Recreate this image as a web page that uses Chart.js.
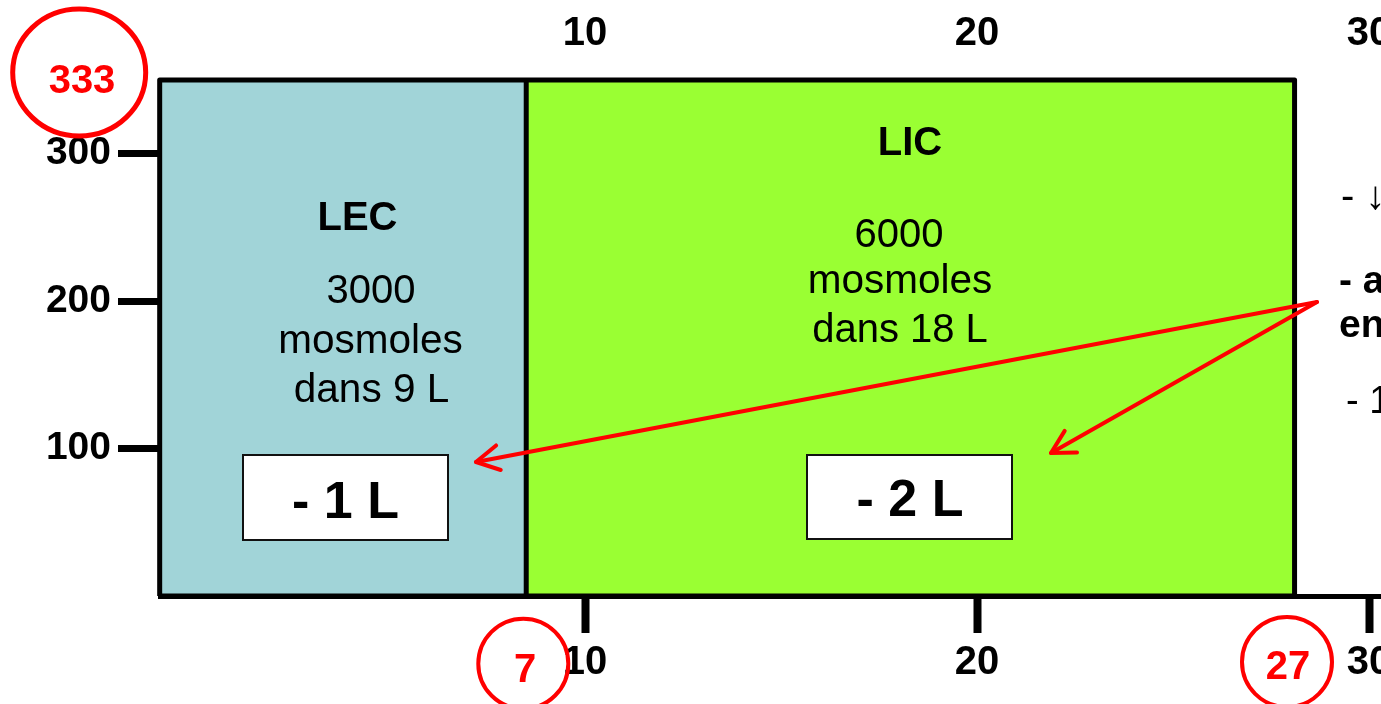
<!DOCTYPE html>
<html>
<head>
<meta charset="utf-8">
<script src="https://cdn.jsdelivr.net/npm/chart.js@4.4.1/dist/chart.umd.min.js"></script>
<style>
html,body{margin:0;padding:0;overflow:hidden;background:#fff;width:1381px;height:704px}
#wrap{position:absolute;left:0;top:0;width:1460px;height:704px}
canvas{display:block}
</style>
</head>
<body>
<div id="wrap"><canvas id="c" width="1460" height="704" style="width:1460px;height:704px"></canvas></div>
<script>
// ---------------- data ----------------
const xTickValues = [10, 20, 30];
const xTickLabels = ['10', '20', '30'];
const yTickValues = [100, 200, 300];
const yTickLabels = ['100', '200', '300'];
const compartments = ['LEC', 'LIC'];
const volumeEdges = [-0.85, 8.5, 28.1];   // left edge, LEC|LIC boundary, right edge (read on the volume axis)
const osmolalityTop = 350;                // top of both compartments (read on the osmolality axis)
const osmolalityBottom = 0;
const mosmoleCounts = ['3000', '6000'];
const compartmentVolumes = ['9 L', '18 L'];
const waterLosses = ['- 1 L', '- 2 L'];
const circledValues = ['333', '7', '27'];
const sideNotes = ['- \u2193', '- av', 'en', '- 1'];

// ---------------- axis ranges (layout) ----------------
const X_MIN = -0.842, X_MAX = 32.32;
const Y_MIN = 0, Y_MAX = 350;

const FONT = "'Liberation Sans', Arial, Helvetica, sans-serif";
const LEC_COLOR = '#A1D4D8';
const LIC_COLOR = '#9AFF33';
const RED = '#FF0000';

const fillLEC = [{x: volumeEdges[0], y: osmolalityTop}, {x: volumeEdges[1], y: osmolalityTop}];
const fillLIC = [{x: volumeEdges[1], y: osmolalityTop}, {x: volumeEdges[2], y: osmolalityTop}];
const outline = [
  {x: volumeEdges[0], y: osmolalityBottom}, {x: volumeEdges[0], y: osmolalityTop},
  {x: volumeEdges[2], y: osmolalityTop}, {x: volumeEdges[2], y: osmolalityBottom},
  {x: volumeEdges[0], y: osmolalityBottom}
];
const divider = [{x: volumeEdges[1], y: osmolalityBottom}, {x: volumeEdges[1], y: osmolalityTop}];

const annotations = {
  id: 'annotations',
  afterDatasetsDraw(chart) {
    const ctx = chart.ctx;
    ctx.save();
    ctx.textAlign = 'center';
    ctx.textBaseline = 'alphabetic';
    ctx.fillStyle = '#000';
    function txt(s, x, y, size, bold, align, color) {
      ctx.font = (bold ? 'bold ' : '') + size + 'px ' + FONT;
      ctx.textAlign = align || 'center';
      ctx.fillStyle = color || '#000';
      ctx.fillText(s, x, y);
    }
    // compartment texts
    txt(compartments[0], 357.5, 230, 40, true);
    txt(mosmoleCounts[0], 371, 303, 40, false);
    txt('mosmoles', 370.5, 353, 40.5, false);
    txt('dans ' + compartmentVolumes[0], 371.5, 402, 40.5, false);
    txt(compartments[1], 910, 155, 40, true);
    txt(mosmoleCounts[1], 899, 247, 40, false);
    txt('mosmoles', 900, 293, 40.5, false);
    txt('dans ' + compartmentVolumes[1], 900, 342, 40, false);

    // white boxes
    ctx.lineWidth = 2;
    ctx.strokeStyle = '#111';
    ctx.fillStyle = '#fff';
    ctx.fillRect(243, 455, 205, 85); ctx.strokeRect(243, 455, 205, 85);
    ctx.fillRect(807, 455, 205, 84); ctx.strokeRect(807, 455, 205, 84);
    txt(waterLosses[0], 345.5, 518, 52, true);
    txt(waterLosses[1], 910, 516, 52, true);

    // red circles
    ctx.strokeStyle = RED;
    ctx.lineWidth = 5;
    ctx.beginPath(); ctx.ellipse(79.2, 72.5, 66.5, 63.5, 0, 0, Math.PI * 2); ctx.stroke();
    txt(circledValues[0], 82, 93, 40, true, 'center', RED);
    ctx.lineWidth = 4;
    ctx.beginPath(); ctx.arc(523.3, 663.7, 45, 0, Math.PI * 2); ctx.stroke();
    txt(circledValues[1], 525, 681.7, 40, true, 'center', RED);
    ctx.beginPath(); ctx.arc(1287, 662, 45, 0, Math.PI * 2); ctx.stroke();
    txt(circledValues[2], 1288, 679.3, 40, true, 'center', RED);

    // side notes (cut by the page edge)
    txt(sideNotes[0], 1341, 209, 40, false, 'left');
    txt(sideNotes[1], 1339, 293, 39, true, 'left');
    txt(sideNotes[2], 1339, 337, 39, true, 'left');
    txt(sideNotes[3], 1346, 413, 38, false, 'left');

    // red arrows
    ctx.strokeStyle = RED;
    ctx.lineWidth = 4;
    ctx.lineCap = 'round';
    ctx.lineJoin = 'round';
    function arrow(x1, y1, x2, y2) {
      ctx.beginPath(); ctx.moveTo(x1, y1); ctx.lineTo(x2, y2); ctx.stroke();
      const a = Math.atan2(y2 - y1, x2 - x1), L = 26, t = 0.5;
      ctx.beginPath();
      ctx.moveTo(x2 - L * Math.cos(a - t), y2 - L * Math.sin(a - t));
      ctx.lineTo(x2, y2);
      ctx.lineTo(x2 - L * Math.cos(a + t), y2 - L * Math.sin(a + t));
      ctx.stroke();
    }
    arrow(1317, 302, 476, 462);
    arrow(1317, 302, 1051, 453);
    ctx.restore();
  }
};

const tickFontX = {family: FONT, size: 40, weight: 'bold'};

new Chart(document.getElementById('c'), {
  type: 'line',
  data: {
    datasets: [
      {label: 'outline', data: outline, borderColor: '#000', borderWidth: 5, fill: false,
       pointRadius: 0, borderJoinStyle: 'round', clip: false, order: 0},
      {label: 'divider', data: divider, borderColor: '#000', borderWidth: 5, fill: false,
       pointRadius: 0, clip: false, order: 0},
      {label: compartments[0], data: fillLEC, borderWidth: 0, borderColor: 'rgba(0,0,0,0)',
       backgroundColor: LEC_COLOR, fill: 'origin', pointRadius: 0, clip: false, order: 1},
      {label: compartments[1], data: fillLIC, borderWidth: 0, borderColor: 'rgba(0,0,0,0)',
       backgroundColor: LIC_COLOR, fill: 'origin', pointRadius: 0, clip: false, order: 1}
    ]
  },
  options: {
    responsive: false,
    animation: false,
    devicePixelRatio: 1,
    layout: {padding: 0},
    plugins: {legend: {display: false}, tooltip: {enabled: false}},
    scales: {
      x: {
        type: 'linear', position: 'bottom', min: X_MIN, max: X_MAX,
        afterBuildTicks: s => { s.ticks = xTickValues.map(v => ({value: v})); },
        afterFit: s => { s.height = 108; s.paddingLeft = 0; s.paddingRight = 0; },
        grid: {display: true, drawOnChartArea: false, drawTicks: true, tickLength: 37,
               tickWidth: 8, tickColor: '#000', color: '#000'},
        border: {display: true, width: 5, color: '#000'},
        ticks: {color: '#000', font: tickFontX, padding: 6, maxRotation: 0, autoSkip: false,
                callback: (v, i) => xTickLabels[i]}
      },
      x2: {
        type: 'linear', position: 'top', min: X_MIN, max: X_MAX,
        afterBuildTicks: s => { s.ticks = xTickValues.map(v => ({value: v})); },
        afterFit: s => { s.height = 80; s.paddingLeft = 0; s.paddingRight = 0; },
        grid: {display: false, drawTicks: false},
        border: {display: false},
        ticks: {color: '#000', font: tickFontX, padding: 22, maxRotation: 0, autoSkip: false,
                callback: (v, i) => xTickLabels[i]}
      },
      y: {
        type: 'linear', position: 'left', min: Y_MIN, max: Y_MAX,
        afterBuildTicks: s => { s.ticks = yTickValues.map(v => ({value: v})); },
        afterFit: s => { s.width = 160; s.paddingTop = 0; s.paddingBottom = 0; },
        grid: {display: true, drawOnChartArea: false, drawTicks: true, tickLength: 42,
               tickWidth: 7, tickColor: '#000', color: '#000'},
        border: {display: false},
        ticks: {color: '#000', font: {family: FONT, size: 39, weight: 'bold'}, padding: 7,
                autoSkip: false, callback: (v, i) => yTickLabels[i]}
      }
    }
  },
  plugins: [annotations]
});
</script>
</body>
</html>
